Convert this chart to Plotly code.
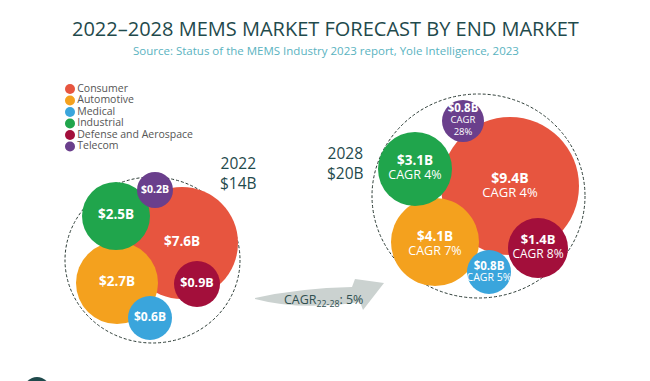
import plotly.graph_objects as go

# ---- data ----
categories = ["Consumer", "Automotive", "Medical", "Industrial", "Defense and Aerospace", "Telecom"]
values_2022 = [7.6, 2.7, 0.6, 2.5, 0.9, 0.2]
values_2028 = [9.4, 4.1, 0.8, 3.1, 1.4, 0.8]
cagr_2028 = [4, 7, 5, 4, 8, 28]
total_2022 = 14
total_2028 = 20
overall_cagr = 5

# ---- styling / layout (screen-pixel space) ----
colors = ["#e7553f", "#f4a11e", "#3aa5dc", "#20a54c", "#a30f3b", "#6a3f8c"]
pos_2022_x = [182, 117, 150, 116, 197, 155]
pos_2022_y = [243, 283, 318, 216, 284, 190]
diam_2022 = [112, 82, 44, 68, 46, 36]
pos_2028_x = [510, 435, 489, 415, 538, 463]
pos_2028_y = [186, 242, 272, 169, 248, 121]
diam_2028 = [138, 88, 44, 74, 60, 42]
font_2022 = [13.5, 13.5, 12, 13.5, 12.5, 10.5]
font_2028_base = [10.8, 10.8, 8.5, 10.8, 10.8, 9]      # sets line spacing
font_2028_val = [14, 13.5, 11.5, 13.5, 13, 11.5]
font_2028_cagr = [13, 12.5, 10.5, 12.5, 12, 9.5]
text_dy_2028 = [1, 3, 1, 0, 0, 0]

OFF = 8  # page body margin
FONT = "Open Sans"
DARK = "#1f4a4c"

fig = go.Figure()

# 2022 bubbles
fig.add_trace(go.Scatter(
    x=pos_2022_x, y=pos_2022_y, mode="markers+text",
    marker=dict(size=diam_2022, sizemode="diameter", color=colors, opacity=1, line=dict(width=0)),
    text=[f"<b>${v}B</b>" for v in values_2022],
    textposition="middle center",
    textfont=dict(family=FONT, size=font_2022, color="white"),
    hoverinfo="skip", showlegend=False,
))

# 2028 bubbles
fig.add_trace(go.Scatter(
    x=pos_2028_x, y=pos_2028_y, mode="markers",
    marker=dict(size=diam_2028, sizemode="diameter", color=colors, opacity=1, line=dict(width=0)),
    hoverinfo="skip", showlegend=False,
))
# 2028 labels
txt28 = []
for v, c, fv, fc in zip(values_2028, cagr_2028, font_2028_val, font_2028_cagr):
    sep = "<br>" if c >= 10 else " "
    txt28.append(f"<span style='font-size:{fv}px'><b>${v}B</b></span><br>"
                 f"<span style='font-size:{fc}px'>CAGR{sep}{c}%</span>")
fig.add_trace(go.Scatter(
    x=pos_2028_x, y=[y + d for y, d in zip(pos_2028_y, text_dy_2028)], mode="text",
    text=txt28,
    textposition="middle center",
    textfont=dict(family=FONT, size=font_2028_base, color="white"),
    hoverinfo="skip", showlegend=False,
))

# legend (manual)
leg_y = [89, 100.5, 112, 123.5, 135, 146.5]
fig.add_trace(go.Scatter(
    x=[70] * len(categories), y=leg_y, mode="markers+text",
    marker=dict(size=10, color=colors),
    text=categories, textposition="middle right",
    textfont=dict(family=FONT, size=10.5, color="#555555"),
    hoverinfo="skip", showlegend=False,
))

shapes = [
    dict(type="circle", xref="x", yref="y", x0=65, x1=240, y0=177, y1=343,
         line=dict(color="#2b3b35", width=1, dash="3px,2px"), layer="below"),
    dict(type="circle", xref="x", yref="y", x0=372, x1=585, y0=94, y1=298,
         line=dict(color="#2b3b35", width=1, dash="3px,2px"), layer="below"),
    dict(type="path", xref="x", yref="y",
         path="M 255 298 Q 300 288 352 287 L 355 279 L 384 283 L 363 310 L 360 302 Q 300 311 255 299 Z",
         fillcolor="#cbd2d0", line=dict(width=0), layer="below"),
    dict(type="circle", xref="x", yref="y", x0=24, x1=50, y0=377, y1=403,
         fillcolor="#1f4a4c", line=dict(width=0)),
]

annotations = [
    dict(x=325, y=28, text="2022–2028 MEMS MARKET FORECAST BY END MARKET", showarrow=False,
         font=dict(family=FONT, size=20, color=DARK), xanchor="center", yanchor="middle"),
    dict(x=326, y=50, text="Source: Status of the MEMS Industry 2023 report, Yole Intelligence, 2023",
         showarrow=False, font=dict(family=FONT, size=11.5, color="#5ab3bf"), xanchor="center", yanchor="middle"),
    dict(x=238, y=173, text=f"2022<br>${total_2022}B", showarrow=False, align="center",
         font=dict(family=FONT, size=15.5, color=DARK), xanchor="center", yanchor="middle"),
    dict(x=345, y=163, text=f"2028<br>${total_2028}B", showarrow=False, align="center",
         font=dict(family=FONT, size=15.5, color=DARK), xanchor="center", yanchor="middle"),
    dict(x=323, y=300, text=f"CAGR<sub>22-28</sub>: {overall_cagr}%", showarrow=False,
         font=dict(family=FONT, size=12.5, color="#2f4f4f"), xanchor="center", yanchor="middle"),
]

fig.update_layout(
    width=650, height=381, margin=dict(l=0, r=0, t=0, b=0),
    paper_bgcolor="white", plot_bgcolor="white",
    xaxis=dict(range=[OFF, 650 + OFF], visible=False, fixedrange=True),
    yaxis=dict(range=[381 + OFF, OFF], visible=False, fixedrange=True),
    shapes=shapes, annotations=annotations, showlegend=False,
)

fig.write_html("out.html")
